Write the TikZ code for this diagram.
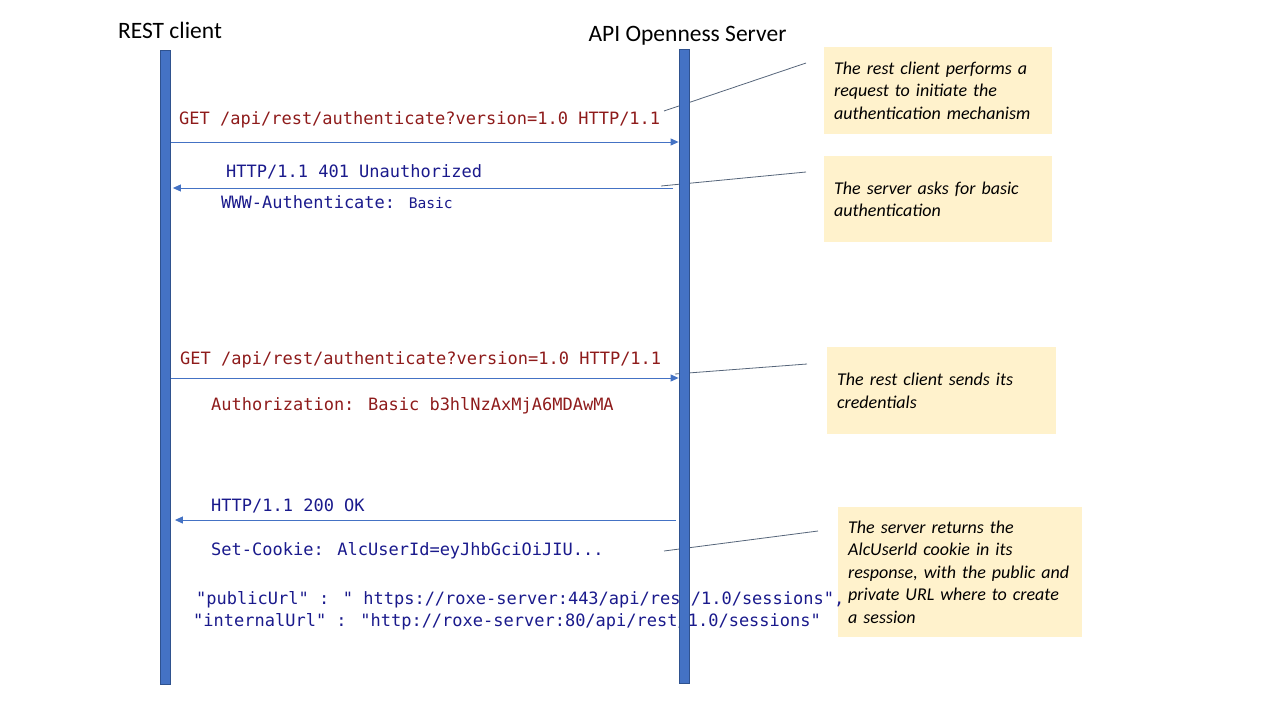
\documentclass[tikz,border=0pt]{standalone}
\usepackage{fontspec}
\setmainfont{Carlito}
\newfontfamily\codigo{DejaVu Sans Mono}
\usepackage{xcolor}
\usepackage{tikz}
\usetikzlibrary{arrows.meta,positioning}
\definecolor{barraAzul}{HTML}{4472C4}
\definecolor{bordaAzul}{HTML}{2F528F}
\definecolor{textoPedido}{HTML}{8E1B1B}
\definecolor{textoResposta}{HTML}{1A1A8C}
\definecolor{notaFundo}{HTML}{FFF2CC}
\definecolor{ligacaoCinza}{HTML}{56657A}
\pgfdeclarelayer{frente}
\pgfsetlayers{main,frente}
\tikzset{
    titulo/.style={
        font=\fontsize{23.5}{28}\selectfont,
        inner sep=0pt,
        anchor=base
    },
    linhaVida/.style={
        rectangle,
        draw=bordaAzul,
        fill=barraAzul,
        line width=0.8pt,
        minimum width=10pt,
        minimum height=634pt,
        inner sep=0pt,
        anchor=north
    },
    mensagem/.style={draw=barraAzul, line width=1pt, -{Triangle[length=8pt,width=7pt]}},
    codigoTexto/.style={font=\codigo\fontsize{17}{22}\selectfont, inner sep=0pt, anchor=base west},
    pedido/.style={codigoTexto, text=textoPedido},
    resposta/.style={codigoTexto, text=textoResposta},
    nota/.style={
        rectangle,
        fill=notaFundo,
        align=left,
        inner xsep=10pt,
        inner ysep=0pt,
        anchor=north west,
        font=\itshape\fontsize{18}{22.5}\selectfont
    },
    ligacao/.style={draw=ligacaoCinza, line width=0.8pt}
}

\begin{document}
\begin{tikzpicture}[x=1pt, y=-1pt]
    \useasboundingbox (0,0) rectangle (1280,720);
    \begin{pgfonlayer}{frente}
        \node[linhaVida] (cliente) at (165.5,50) {};
        \node[linhaVida] (servidor) at (684,49) {};
    \end{pgfonlayer}
    \node[titulo] (tituloCliente) at (170,38) {REST client};
    \node[titulo] (tituloServidor) at (687.5,41) {API Openness Server};

    \node[nota, text width=208pt, minimum height=87pt] (nota1) at (824,47)
        {The rest client performs a\\request to initiate the\\authentication mechanism};
    \node[nota, text width=208pt, minimum height=86pt] (nota2) at (824,156)
        {The server asks for basic\\authentication};
    \node[nota, text width=209pt, minimum height=87pt] (nota3) at (827,347)
        {The rest client sends its\\credentials};
    \node[nota, text width=224pt, minimum height=130pt] (nota4) at (838,507)
        {The server returns the\\AlcUserId cookie in its\\response, with the public and\\private URL where to create\\a session};

    \node[pedido] (pedido1) at (179,124) {GET /api/rest/authenticate?version=1.0 HTTP/1.1};
    \node[resposta] (resposta1) at (226,177) {HTTP/1.1 401 Unauthorized};
    \node[resposta] (cabecalho1) at (221,208)
        {WWW-Authenticate: {\fontsize{14.6}{18}\selectfont Basic}};
    \node[pedido] (pedido2) at (180,364) {GET /api/rest/authenticate?version=1.0 HTTP/1.1};
    \node[pedido] (cabecalho2) at (211,410) {Authorization: Basic b3hlNzAxMjA6MDAwMA};
    \node[resposta] (resposta2) at (211,511) {HTTP/1.1 200 OK};
    \node[resposta] (cookie) at (211,555) {Set-Cookie: AlcUserId=eyJhbGciOiJIU...};
    \node[resposta] (urlPublico) at (196,604)
        {"publicUrl" : " https://roxe-server:443/api/rest/1.0/sessions",};
    \node[resposta] (urlInterno) at (193,626)
        {"internalUrl" : "http://roxe-server:80/api/rest/1.0/sessions"};

    \coordinate (m1) at (0,142);
    \coordinate (r1) at (673,188);
    \coordinate (m2) at (0,378);
    \coordinate (r2) at (676,520);
    \draw[mensagem] (cliente.east |- m1) -- (servidor.west |- m1);
    \draw[mensagem, shorten >=2pt] (r1) -- (cliente.east |- r1);
    \draw[mensagem] (cliente.east |- m2) -- (servidor.west |- m2);
    \draw[mensagem, shorten >=4pt] (r2) -- (cliente.east |- r2);

    \coordinate (n1a) at (806,63);
    \coordinate (n1b) at (664,111);
    \coordinate (n2a) at (806,172);
    \coordinate (n2b) at (661,186);
    \coordinate (n3a) at (807,364);
    \coordinate (n3b) at (675,374);
    \coordinate (n4a) at (818,531);
    \coordinate (n4b) at (664,551);
    \draw[ligacao] (n1a) -- (n1b);
    \draw[ligacao] (n2a) -- (n2b);
    \draw[ligacao] (n3a) -- (n3b);
    \draw[ligacao] (n4a) -- (n4b);
\end{tikzpicture}
\end{document}
